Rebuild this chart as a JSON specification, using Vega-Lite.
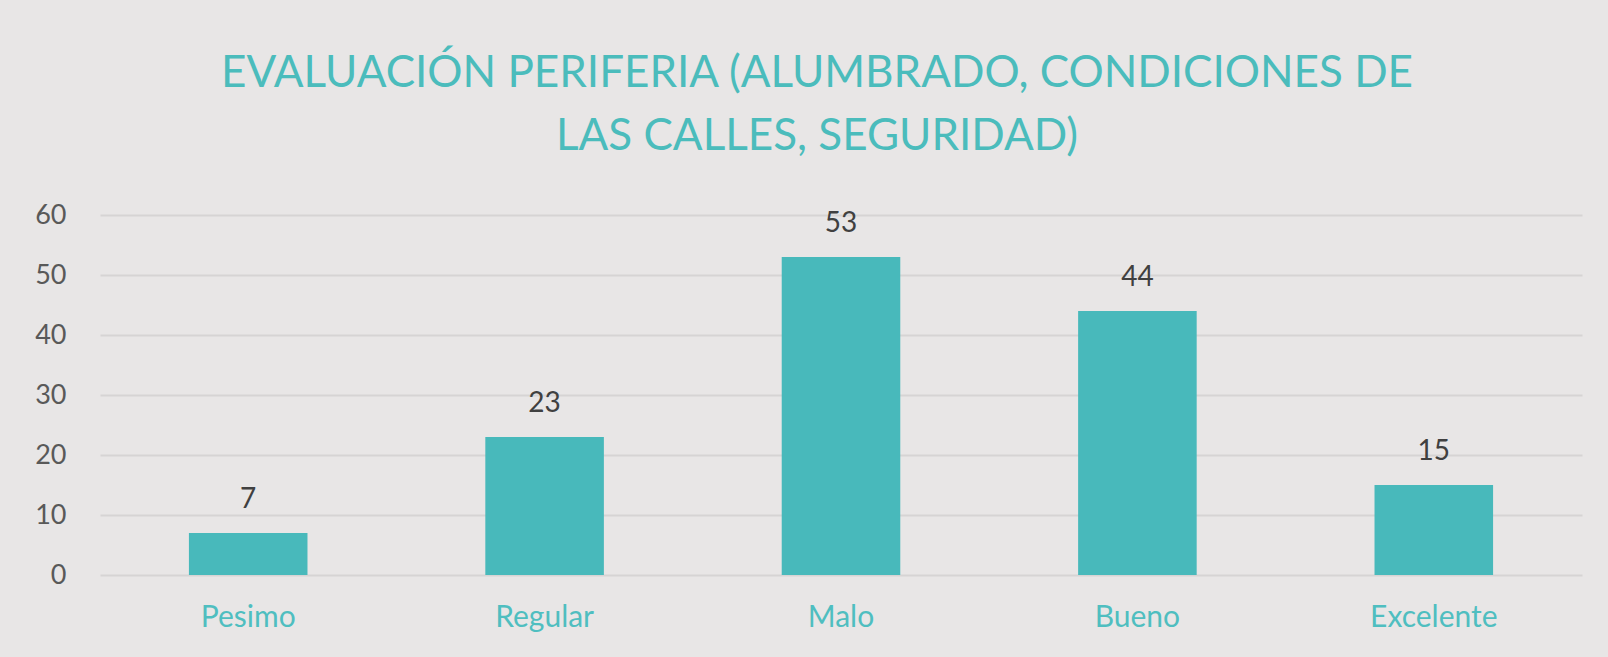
{
  "$schema": "https://vega.github.io/schema/vega-lite/v6.json",
  "width": 1482,
  "height": 360,
  "autosize": {"type": "none"},
  "padding": {"left": 100, "top": 215, "right": 26, "bottom": 82},
  "background": "#e8e6e6",
  "title": {
    "text": ["EVALUACIÓN PERIFERIA (ALUMBRADO, CONDICIONES DE", "LAS CALLES, SEGURIDAD)"],
    "anchor": "middle",
    "frame": "group",
    "dx": -24,
    "offset": 42,
    "font": "Lato",
    "fontSize": 44,
    "fontWeight": "normal",
    "lineHeight": 63,
    "color": "#4bbcbc"
  },
  "data": {
    "values": [
      {"categoria": "Pesimo", "valor": 7},
      {"categoria": "Regular", "valor": 23},
      {"categoria": "Malo", "valor": 53},
      {"categoria": "Bueno", "valor": 44},
      {"categoria": "Excelente", "valor": 15}
    ]
  },
  "encoding": {
    "x": {
      "field": "categoria",
      "type": "nominal",
      "sort": null,
      "title": null,
      "scale": {"paddingInner": 0.6, "paddingOuter": 0.3},
      "axis": {
        "domain": false,
        "ticks": false,
        "labelAngle": 0,
        "labelFont": "Lato",
        "labelFontSize": 30,
        "labelColor": "#4fbec0",
        "labelPadding": 27
      }
    },
    "y": {
      "field": "valor",
      "type": "quantitative",
      "title": null,
      "scale": {"domain": [0, 60]},
      "axis": {
        "values": [0, 10, 20, 30, 40, 50, 60],
        "domain": false,
        "ticks": false,
        "grid": true,
        "gridColor": "#d6d4d4",
        "gridWidth": 2,
        "labelFont": "Lato",
        "labelFontSize": 27,
        "labelColor": "#595959",
        "labelPadding": 34
      }
    }
  },
  "layer": [
    {"mark": {"type": "bar", "color": "#48b9bb"}},
    {
      "mark": {"type": "text", "font": "Lato", "fontSize": 28, "color": "#404040", "baseline": "alphabetic", "dy": -25},
      "encoding": {"text": {"field": "valor", "type": "quantitative"}}
    }
  ],
  "config": {"view": {"stroke": null}}
}
